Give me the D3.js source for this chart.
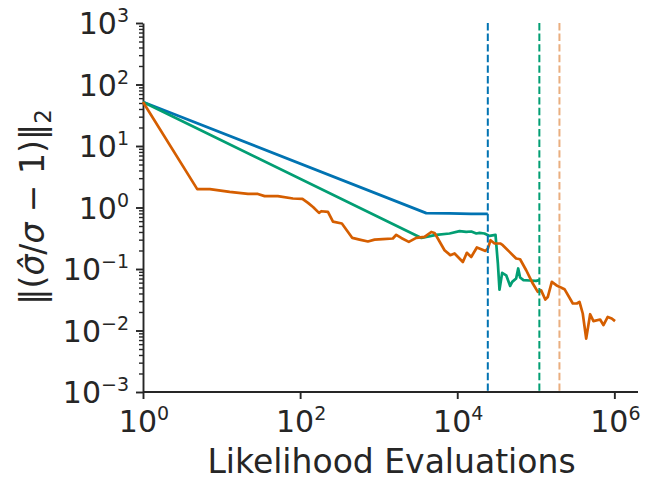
<!DOCTYPE html>
<html>
<head>
<meta charset="utf-8">
<script src="https://cdn.jsdelivr.net/npm/d3@7"></script>
<style>
    body { margin: 0; background: #fff; }
    text { font-family: "DejaVu Sans", sans-serif; fill: #262626; }
</style>
</head>
<body>
<script>
// Series: likelihood evaluations vs error norm
var blueEvals = [1, 4030, 8000, 15000, 24500];
var blueErr = [52, 0.81, 0.80, 0.79, 0.79];

var greenEvals = [1, 3500, 5410, 7980, 10700, 13000, 15100, 17500, 19200,
    22200, 25800, 30700, 32900, 34500, 37300, 42000, 47200, 50100, 56200,
    59700, 63100, 69700, 83200, 101000, 111000];
var greenErr = [52, 0.32, 0.359, 0.378, 0.412, 0.402, 0.407, 0.378, 0.386,
    0.378, 0.345, 0.359, 0.123, 0.046, 0.0865, 0.079, 0.053, 0.0617, 0.070,
    0.102, 0.0728, 0.0658, 0.065, 0.064, 0.0658];

var orangeEvals = [1, 4.9, 7.1, 12.7, 21.7, 29, 35.3, 52, 81, 107,
    126, 146, 174, 186, 226, 262, 340, 462, 571, 729,
    887, 1130, 1515, 1675, 1940, 2420, 3006, 3840, 4670, 5140,
    5660, 6890, 8150, 9250, 11800, 13250, 15070, 17780, 20200, 22900,
    24550, 26550, 29850, 35200, 38000, 46250, 56200, 63100, 75500, 91600,
    106000, 117000, 132000, 142000, 160000, 182000, 232000, 296000, 333000,
    360000, 396000, 438000, 492000, 542000, 659000, 726000, 824000, 926000,
    1020000];
var orangeErr = [52, 1.99, 1.99, 1.79, 1.66, 1.66, 1.53, 1.53, 1.40, 1.38,
    1.19, 1.02, 0.817, 0.87, 0.85, 0.59, 0.55, 0.32, 0.30, 0.28,
    0.30, 0.305, 0.313, 0.36, 0.32, 0.276, 0.32, 0.333, 0.40, 0.386,
    0.313, 0.202, 0.168, 0.179, 0.130, 0.183, 0.157, 0.224, 0.21, 0.197,
    0.215, 0.294, 0.26, 0.26, 0.244, 0.19, 0.148, 0.144, 0.0955, 0.058,
    0.0425, 0.045, 0.0319, 0.035, 0.0617, 0.0546, 0.047, 0.0275, 0.0275,
    0.0292, 0.0189, 0.0074, 0.0184, 0.0142, 0.0151, 0.0122, 0.0166, 0.0157,
    0.0142];

// Vertical dashed markers (budget per method)
var vlineEvals = [24500, 111000, 200000];

// Tick exponents
var xTickExps = [0, 2, 4, 6];
var yTickExps = [-3, -2, -1, 0, 1, 2, 3];

var colors = ["#0173b2", "#029e73", "#d55e00"];
var vlineColors = ["#0173b2", "#029e73", "#eaae7f"];

var W = 653, H = 487;
var plot = {left: 143, right: 638, top: 23, bottom: 392};

var svg = d3.select("body").append("svg")
    .attr("width", W)
    .attr("height", H);

var x = d3.scaleLog().domain([1, 2e6]).range([plot.left, plot.right]);
var y = d3.scaleLog().domain([1e-3, 1e3]).range([plot.bottom, plot.top]);

//Minor y ticks (2..9 each decade)
var minorY = [];
for (var e = -3; e < 3; e++) {
    for (var m = 2; m < 10; m++) minorY.push(m * Math.pow(10, e));
}

var axisColor = "#262626";

var gx = svg.append("g")
    .attr("transform", "translate(0," + plot.bottom + ")")
    .call(d3.axisBottom(x)
        .tickValues(xTickExps.map(function(d) { return Math.pow(10, d); }))
        .tickSize(7).tickSizeOuter(0).tickFormat(""));

var gyMinor = svg.append("g")
    .attr("transform", "translate(" + plot.left + ",0)")
    .call(d3.axisLeft(y).tickValues(minorY)
        .tickSize(4).tickSizeOuter(0).tickFormat(""));

var gy = svg.append("g")
    .attr("transform", "translate(" + plot.left + ",0)")
    .call(d3.axisLeft(y)
        .tickValues(yTickExps.map(function(d) { return Math.pow(10, d); }))
        .tickSize(7).tickSizeOuter(0).tickFormat(""));

[gx, gy, gyMinor].forEach(function(g) {
    g.selectAll("path, line")
        .attr("stroke", axisColor)
        .attr("stroke-width", 1.9);
});
gyMinor.selectAll("line").attr("stroke-width", 1.4);
gyMinor.select("path").remove();
gx.select("path").attr("d", "M" + plot.left + ",0H" + plot.right);

function fmtExp(e) {
    return e < 0 ? "\u2212" + Math.abs(e) : String(e);
}

// X tick labels
xTickExps.forEach(function(e) {
    var t = svg.append("text")
        .attr("x", x(Math.pow(10, e)) + 1)
        .attr("y", 432)
        .attr("text-anchor", "middle")
        .style("font-size", "30px");
    t.append("tspan").text("10");
    t.append("tspan").attr("dy", -12).style("font-size", "19px")
        .text(fmtExp(e));
});

// Y tick labels
yTickExps.forEach(function(e) {
    var t = svg.append("text")
        .attr("x", 129)
        .attr("y", y(Math.pow(10, e)) + 11)
        .attr("text-anchor", "end")
        .style("font-size", "30px");
    t.append("tspan").text("10");
    t.append("tspan").attr("dy", -12).style("font-size", "19px")
        .text(fmtExp(e));
});

// Axis labels
svg.append("text")
    .attr("x", (plot.left + plot.right) / 2 + 1)
    .attr("y", 473)
    .attr("text-anchor", "middle")
    .style("font-size", "33px")
    .text("Likelihood Evaluations");

var yl = svg.append("text")
    .attr("transform", "translate(44,207) rotate(-90)")
    .attr("text-anchor", "middle")
    .style("font-size", "33px");
yl.append("tspan").text("\u2016(");
yl.append("tspan").style("font-style", "italic").text("\u03c3\u0302");
yl.append("tspan").text("/");
yl.append("tspan").style("font-style", "italic").text("\u03c3");
yl.append("tspan").text(" \u2212 1)\u2016");
yl.append("tspan").attr("dy", 7).style("font-size", "23px").text("2");

// Series lines
var line = d3.line()
    .x(function(d) { return x(d[0]); })
    .y(function(d) { return y(d[1]); });

var series = [
    d3.zip(blueEvals, blueErr),
    d3.zip(greenEvals, greenErr),
    d3.zip(orangeEvals, orangeErr)
];

svg.append("g").selectAll("path")
    .data(series)
    .enter().append("path")
    .attr("d", line)
    .attr("fill", "none")
    .attr("stroke", function(d, i) { return colors[i]; })
    .attr("stroke-width", 2.7)
    .attr("stroke-linejoin", "round");

// Dashed vertical lines
svg.append("g").selectAll("line")
    .data(vlineEvals)
    .enter().append("line")
    .attr("x1", function(d) { return x(d); })
    .attr("x2", function(d) { return x(d); })
    .attr("y1", plot.top)
    .attr("y2", plot.bottom)
    .attr("stroke", function(d, i) { return vlineColors[i]; })
    .attr("stroke-width", 2)
    .attr("stroke-dasharray", "7.4,3.2");
</script>
</body>
</html>
